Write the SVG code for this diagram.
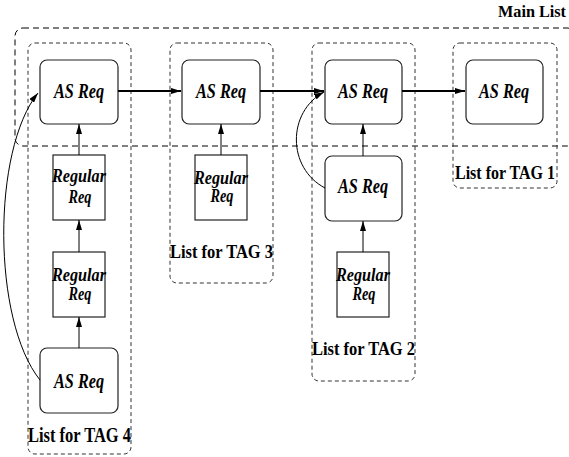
<svg xmlns="http://www.w3.org/2000/svg" width="569" height="457" viewBox="0 0 569 457">
<defs>
<marker id="ah" viewBox="0 0 10 6" refX="10" refY="3" markerWidth="10" markerHeight="6" markerUnits="userSpaceOnUse" orient="auto">
<path d="M0,0 L10,3 L0,6 Z" fill="#000"/>
</marker>
</defs>
<style>
.main{fill:none;stroke:#000;stroke-width:1;stroke-dasharray:6 4}
.grp{fill:none;stroke:#333;stroke-width:1;stroke-dasharray:4 3}
.as{fill:#fff;stroke:#222;stroke-width:1.2}
.reg{fill:#fff;stroke:#222;stroke-width:1.2}
.t{font-family:"Liberation Serif",serif;font-weight:bold;font-style:italic;fill:#000;text-anchor:middle}
.lbl{font-family:"Liberation Serif",serif;font-weight:bold;fill:#000}
.c{fill:none;stroke:#000;stroke-width:1}
.h{fill:none;stroke:#000;stroke-width:2}
</style>
<g id="main-list">
<rect class="main" x="15" y="28" width="560" height="118" rx="8"/>
<text class="lbl" x="498" y="17" font-size="16" textLength="68" lengthAdjust="spacingAndGlyphs">Main List</text>
</g>
<g id="tag4">
<rect class="grp" x="28" y="43" width="103" height="411" rx="7"/>
<text class="lbl" x="28" y="442" font-size="20" textLength="103" lengthAdjust="spacingAndGlyphs">List for TAG 4</text>
</g>
<g id="tag3">
<rect class="grp" x="170" y="43" width="103" height="240" rx="7"/>
<text class="lbl" x="170" y="258" font-size="19" textLength="103" lengthAdjust="spacingAndGlyphs">List for TAG 3</text>
</g>
<g id="tag2">
<rect class="grp" x="312" y="43" width="103" height="338" rx="7"/>
<text class="lbl" x="312" y="355" font-size="19" textLength="103" lengthAdjust="spacingAndGlyphs">List for TAG 2</text>
</g>
<g id="tag1">
<rect class="grp" x="453" y="43" width="104" height="145" rx="7"/>
<text class="lbl" x="455" y="179" font-size="19" textLength="100" lengthAdjust="spacingAndGlyphs">List for TAG 1</text>
</g>
<g id="as4a"><rect class="as" x="40" y="60" width="78" height="64" rx="7"/><text class="t" x="79" y="98" font-size="21" textLength="50" lengthAdjust="spacingAndGlyphs">AS Req</text></g>
<g id="as3"><rect class="as" x="182" y="60" width="78" height="64" rx="7"/><text class="t" x="221" y="98" font-size="21" textLength="50" lengthAdjust="spacingAndGlyphs">AS Req</text></g>
<g id="as2a"><rect class="as" x="325" y="60" width="77" height="64" rx="7"/><text class="t" x="363" y="98" font-size="21" textLength="50" lengthAdjust="spacingAndGlyphs">AS Req</text></g>
<g id="as1"><rect class="as" x="466" y="60" width="77" height="64" rx="7"/><text class="t" x="504" y="98" font-size="21" textLength="50" lengthAdjust="spacingAndGlyphs">AS Req</text></g>
<g id="as2b"><rect class="as" x="325" y="156" width="77" height="65" rx="7" stroke-width="1.6"/><text class="t" x="363" y="193" font-size="21" textLength="50" lengthAdjust="spacingAndGlyphs">AS Req</text></g>
<g id="as4b"><rect class="as" x="40" y="348" width="78" height="65" rx="7"/><text class="t" x="79" y="388" font-size="21" textLength="50" lengthAdjust="spacingAndGlyphs">AS Req</text></g>
<g id="reg4a"><rect class="reg" x="53" y="155" width="52" height="65"/><text class="t" x="79" y="182" font-size="18" textLength="54" lengthAdjust="spacingAndGlyphs">Regular</text><text class="t" x="80" y="203" font-size="18" textLength="23" lengthAdjust="spacingAndGlyphs">Req</text></g>
<g id="reg4b"><rect class="reg" x="53" y="252" width="52" height="65"/><text class="t" x="79" y="281" font-size="18" textLength="54" lengthAdjust="spacingAndGlyphs">Regular</text><text class="t" x="80" y="300" font-size="18" textLength="23" lengthAdjust="spacingAndGlyphs">Req</text></g>
<g id="reg3"><rect class="reg" x="195" y="155" width="52" height="65"/><text class="t" x="221" y="184" font-size="18" textLength="54" lengthAdjust="spacingAndGlyphs">Regular</text><text class="t" x="222" y="202" font-size="18" textLength="23" lengthAdjust="spacingAndGlyphs">Req</text></g>
<g id="reg2"><rect class="reg" x="337" y="252" width="52" height="65"/><text class="t" x="363" y="281" font-size="18" textLength="54" lengthAdjust="spacingAndGlyphs">Regular</text><text class="t" x="364" y="300" font-size="18" textLength="23" lengthAdjust="spacingAndGlyphs">Req</text></g>
<g id="connectors">
<path class="h" d="M118,91 H181" marker-end="url(#ah)"/>
<path class="h" d="M260,91 H324" marker-end="url(#ah)"/>
<path class="h" d="M402,91 H465" marker-end="url(#ah)"/>
<path class="c" d="M79,155 V124" marker-end="url(#ah)"/>
<path class="c" d="M79,252 V220" marker-end="url(#ah)"/>
<path class="c" d="M79,348 V317" marker-end="url(#ah)"/>
<path class="c" d="M221,155 V124" marker-end="url(#ah)"/>
<path class="c" d="M363,156 V124" marker-end="url(#ah)"/>
<path class="c" d="M363,252 V221" marker-end="url(#ah)"/>
<path class="c" d="M40,380 C-8,320 -8,150 38,93" marker-end="url(#ah)"/>
<path class="c" d="M325,188 C287,168 287,112 324,92" marker-end="url(#ah)"/>
</g>
</svg>
